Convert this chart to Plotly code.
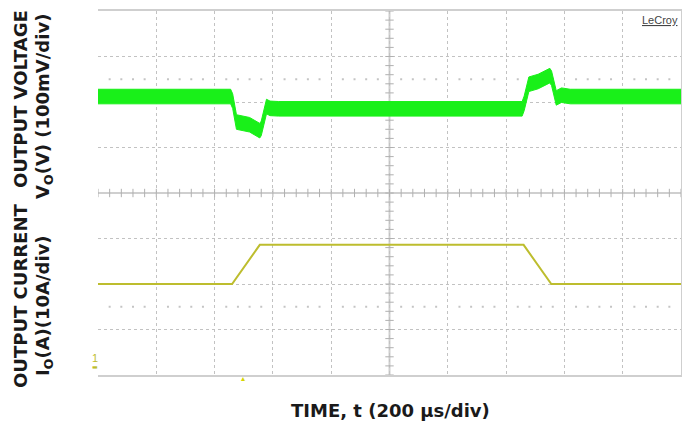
import plotly.graph_objects as go

# ---- data ----
# time in microseconds (200 us/div, 10 divisions)
v_time = [0, 455, 462, 475, 520, 555, 560, 578, 590, 620, 1455, 1462, 1478, 1510, 1550, 1556, 1572, 1590, 1620, 2000]
# output voltage deviation in mV (100 mV/div)
v_dev = [0, 0, -10, -56, -62, -75, -70, -22, -26, -27, -27, -15, 27, 33, 46, 40, -3, 3, 0, 0]
v_ripple = 16  # half-width of noise band, mV

i_time = [0, 460, 555, 1460, 1555, 2000]
i_amp = [18, 18, 26.6, 26.6, 18, 18]  # output current, A (10 A/div)

V_OFFSET_DIV = 2.12   # screen offset of voltage trace (div)
I_OFFSET_DIV = -3.8   # screen position of current ground (div)

minor_x = [k * 40 for k in range(0, 51)]
minor_y = [k * 0.2 for k in range(-20, 21)]
dot_x = [k * 40 for k in range(0, 51) if k % 5 != 0]

GREEN = '#19F019'
OLIVE = '#BDBD2E'

v_up = [V_OFFSET_DIV + (d + v_ripple) / 100 for d in v_dev]
v_lo = [V_OFFSET_DIV + (d - v_ripple) / 100 for d in v_dev]
i_scr = [I_OFFSET_DIV + a / 10 for a in i_amp]

fig = go.Figure()

# center-axis minor ticks
fig.add_trace(go.Scatter(x=minor_x, y=[0] * len(minor_x), mode='markers',
                         marker=dict(symbol='line-ns-open', size=6, color='#b0b0b0',
                                     line=dict(color='#b0b0b0', width=1)),
                         hoverinfo='skip', showlegend=False))
fig.add_trace(go.Scatter(x=[1000] * len(minor_y), y=minor_y, mode='markers',
                         marker=dict(symbol='line-ew-open', size=6, color='#b0b0b0',
                                     line=dict(color='#b0b0b0', width=1)),
                         hoverinfo='skip', showlegend=False))
for yy in (2.5, -2.5):
    fig.add_trace(go.Scatter(x=dot_x, y=[yy] * len(dot_x), mode='markers',
                             marker=dict(symbol='square', size=2, color='#c4c4c4'),
                             hoverinfo='skip', showlegend=False))

# voltage band
fig.add_trace(go.Scatter(x=v_time, y=v_lo, mode='lines', line=dict(color=GREEN, width=1),
                         hoverinfo='skip', showlegend=False))
fig.add_trace(go.Scatter(x=v_time, y=v_up, mode='lines', line=dict(color=GREEN, width=1),
                         fill='tonexty', fillcolor=GREEN, hoverinfo='skip', showlegend=False))

# current
fig.add_trace(go.Scatter(x=i_time, y=i_scr, mode='lines', line=dict(color=OLIVE, width=2),
                         hoverinfo='skip', showlegend=False))

fig.add_shape(type='line', x0=1000, x1=1000, y0=-4, y1=4, xref='x', yref='y',
              line=dict(color='#cfcfcf', width=2), layer='below')

fig.update_xaxes(range=[0, 2000], dtick=200, tick0=0, showticklabels=False, ticks='',
                 showgrid=True, gridcolor='#c2c2c2', griddash='dot', gridwidth=1,
                 showline=True, mirror=True, linecolor='#cfcfcf', linewidth=2,
                 zeroline=False)
fig.update_yaxes(range=[-4, 4], dtick=1, tick0=0, showticklabels=False, ticks='',
                 showgrid=True, gridcolor='#c2c2c2', griddash='dot', gridwidth=1,
                 zeroline=True, zerolinecolor='#cfcfcf', zerolinewidth=2,
                 side='right', showline=True, linecolor='#cfcfcf', linewidth=2)

FONT = 'DejaVu Sans'
# positions in page pixels
ann = [
    ('<b>OUTPUT VOLTAGE</b>', 20, 99, -90),
    ('<b>V<sub>O</sub>(V) (100mV/div)</b>', 44, 107, -90),
    ('<b>OUTPUT CURRENT</b>', 20, 296, -90),
    ('<b>I<sub>O</sub>(A)(10A/div)</b>', 44, 306, -90),
    ('<b>TIME, t (200 µs/div)</b>', 390, 410, 0),
]
for txt, px, py, ang in ann:
    fig.add_annotation(text=txt, x=(px - 98) / 583, y=(375 - py) / 364, xref='paper', yref='paper',
                       xanchor='center', yanchor='middle', showarrow=False, textangle=ang,
                       font=dict(family=FONT, size=18, color='#1a1a1a'))

fig.add_annotation(text='<u>LeCroy</u>', x=1, y=1, xref='paper', yref='paper', xanchor='right', yanchor='top',
                   xshift=-1, yshift=-1, showarrow=False,
                   font=dict(family='Liberation Sans', size=11, color='#444444'))
# channel-1 ground marker just left of the grid
fig.add_annotation(text='1', x=(95 - 98) / 583, y=(375 - 358) / 364, xref='paper', yref='paper',
                   xanchor='center', yanchor='middle', showarrow=False,
                   font=dict(family='Liberation Sans', size=11, color=OLIVE))
fig.add_annotation(text='▬', x=(95 - 98) / 583, y=(375 - 366) / 364, xref='paper', yref='paper',
                   xanchor='center', yanchor='middle', showarrow=False,
                   font=dict(family='DejaVu Sans', size=6, color=OLIVE))
# trigger position marker below the grid
fig.add_annotation(text='▴', x=(243 - 98) / 583, y=(375 - 378) / 364, xref='paper', yref='paper',
                   xanchor='center', yanchor='middle', showarrow=False,
                   font=dict(family='DejaVu Sans', size=8, color='#D6D600'))

fig.update_layout(width=682, height=421, margin=dict(l=98, r=1, t=11, b=46),
                  plot_bgcolor='white', paper_bgcolor='white', showlegend=False)

fig.write_html('out.html', config={'displayModeBar': False},
               post_script="document.body.style.margin='0px';")
